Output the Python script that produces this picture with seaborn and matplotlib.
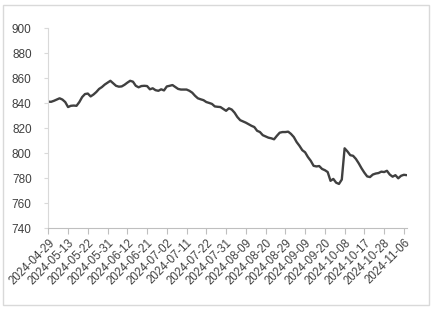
import matplotlib
matplotlib.use("Agg")
import matplotlib.pyplot as plt
import seaborn as sns
import pandas as pd
import numpy as np
from matplotlib.patches import Rectangle

values = [
    841.3, 841.2, 842.0, 843.0, 844.0, 843.0, 841.0, 837.0, 838.0, 838.2,
    838.0, 841.0, 845.0, 847.4, 847.8, 845.5, 847.0, 849.0, 851.5, 853.0,
    855.0, 856.5, 858.0, 856.0, 854.0, 853.3, 853.5, 854.8, 856.5, 858.0,
    857.3, 854.0, 852.8, 853.8, 854.0, 853.8, 851.2, 852.0, 850.5, 850.0,
    851.2, 850.3, 853.5, 854.0, 854.6, 853.0, 851.5, 851.0, 851.0, 851.0,
    850.0, 848.5, 846.0, 844.0, 843.2, 842.5, 841.0, 840.3, 839.5, 837.5,
    837.2, 837.0, 835.5, 834.0, 836.0, 835.0, 832.5, 829.0, 826.5, 825.5,
    824.5, 823.2, 822.0, 821.0, 818.0, 817.0, 814.5, 813.5, 812.5, 812.0,
    811.2, 814.0, 816.5, 817.0, 817.0, 817.3, 815.5, 813.0, 809.0, 806.0,
    802.5, 800.8, 797.0, 794.0, 790.0, 789.5, 789.8, 787.5, 786.5, 785.0,
    778.0, 779.5, 776.5, 775.5, 779.0, 804.0, 801.5, 798.5, 798.0, 795.5,
    792.0, 788.0, 784.5, 781.5, 781.0, 783.0, 783.8, 784.2, 785.3, 785.0,
    786.0, 783.0, 781.3, 782.5, 780.0, 782.0, 782.8, 782.5,
]

tick_labels = [
    "2024-04-29", "2024-05-13", "2024-05-22", "2024-05-31", "2024-06-12",
    "2024-06-21", "2024-07-02", "2024-07-11", "2024-07-22", "2024-07-31",
    "2024-08-09", "2024-08-20", "2024-08-29", "2024-09-09", "2024-09-20",
    "2024-10-08", "2024-10-17", "2024-10-28", "2024-11-06",
]
tick_step = 7

y_ticks = [740, 760, 780, 800, 820, 840, 860, 880, 900]

df = pd.DataFrame({"idx": np.arange(len(values)), "value": values})

sns.set_theme(style="white")
plt.rcParams["font.family"] = ["Liberation Sans", "DejaVu Sans"]

fig = plt.figure(figsize=(4.33, 3.10), dpi=100)
fig.patch.set_facecolor("white")
fig.patches.append(Rectangle((2.5 / 433, 1 - 305 / 310), 426 / 433, 300.5 / 310,
                             transform=fig.transFigure, fill=False,
                             edgecolor="#d9d9d9", linewidth=1.0))

ax = fig.add_axes([48.3 / 433, 1 - 228.3 / 310, (406.7 - 48.3) / 433, 200 / 310])
sns.lineplot(data=df, x="idx", y="value", ax=ax, color="#404040", linewidth=1.7)

ax.set_xlim(0, len(values) - 1)
ax.set_ylim(740, 900)
ax.set_yticks(y_ticks)
ax.set_yticklabels([str(v) for v in y_ticks], fontsize=8.5, color="#404040")
ax.set_xticks([i * tick_step for i in range(len(tick_labels))])
ax.set_xticklabels(tick_labels, rotation=45, ha="right", rotation_mode="anchor",
                   fontsize=8.3, color="#404040")
ax.set_xlabel("")
ax.set_ylabel("")

for s in ["top", "right"]:
    ax.spines[s].set_visible(False)
ax.spines["left"].set_color("#d9d9d9")
ax.spines["left"].set_linewidth(0.8)
ax.spines["bottom"].set_color("#bfbfbf")
ax.spines["bottom"].set_linewidth(0.8)
ax.tick_params(axis="x", which="major", direction="out", length=4, width=0.8,
               color="#bfbfbf", pad=2, bottom=True)
ax.tick_params(axis="y", which="major", direction="out", length=3, width=0.8,
               color="#d9d9d9", pad=9, left=True)
ax.grid(False)

fig.savefig("out.png", dpi=100, facecolor="white")
